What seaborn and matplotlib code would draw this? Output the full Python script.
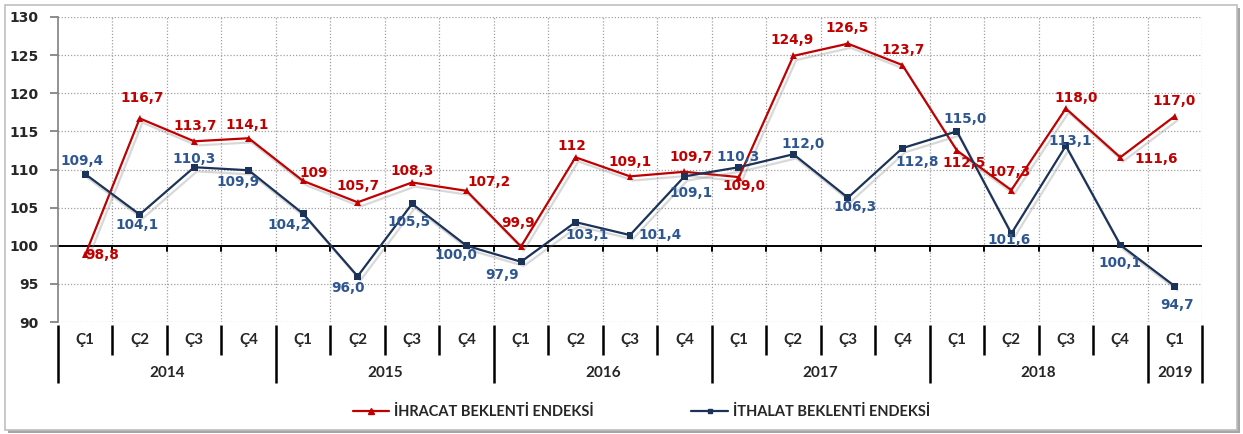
#!/usr/bin/env python3
"""
Export / import expectation indices (2014 Q1 - 2019 Q1), quarterly line chart.
"""

import numpy as np
import pandas as pd

import matplotlib
matplotlib.use('Agg')
import matplotlib.pyplot as plt
import matplotlib.patheffects as pe
from matplotlib.patches import Rectangle
import seaborn as sns

# --- data -----------------------------------------------------------------
quarters = ["Ç1", "Ç2", "Ç3", "Ç4"] * 5 + ["Ç1"]
years = ["2014", "2015", "2016", "2017", "2018", "2019"]
year_sizes = [4, 4, 4, 4, 4, 1]

export_index = [98.8, 116.7, 113.7, 114.1, 108.5, 105.7, 108.3, 107.2, 99.9, 111.6, 109.1,
                109.7, 109.0, 124.9, 126.5, 123.7, 112.5, 107.3, 118.0, 111.6, 117.0]
export_labels = ["98,8", "116,7", "113,7", "114,1", "109", "105,7", "108,3", "107,2", "99,9",
                 "112", "109,1", "109,7", "109,0", "124,9", "126,5", "123,7", "112,5", "107,3",
                 "118,0", "111,6", "117,0"]

import_index = [109.4, 104.1, 110.3, 109.9, 104.2, 96.0, 105.5, 100.0, 97.9, 103.1, 101.4,
                109.1, 110.3, 112.0, 106.3, 112.8, 115.0, 101.6, 113.1, 100.1, 94.7]
import_labels = ["109,4", "104,1", "110,3", "109,9", "104,2", "96,0", "105,5", "100,0", "97,9",
                 "103,1", "101,4", "109,1", "110,3", "112,0", "106,3", "112,8", "115,0", "101,6",
                 "113,1", "100,1", "94,7"]

series_names = ["İHRACAT BEKLENTİ ENDEKSİ", "İTHALAT BEKLENTİ ENDEKSİ"]

# label placement (offset in pixels from the point)
export_offsets = [(17, 0), (2, 20), (1, 15), (-1, 13), (11, 8), (0, 16), (0, 11), (22, 9),
                  (-3, 24), (-4, 11), (0, 14), (7, 15), (5, -9), (-1, 16), (-1, 16), (1, 15),
                  (7, -13), (-2, 18), (10, 11), (36, -2), (-1, 15)]
import_offsets = [(-3, 13), (-3, -11), (0, 8), (-11, -12), (-14, -11), (-10, -12), (-3, -18),
                  (-11, -9), (-19, -13), (12, -13), (30, 0), (7, -17), (-1, 10), (10, 10),
                  (7, -9), (15, -14), (8, 12), (-2, -6), (4, 5), (0, -18), (2, -19)]

RED = "#C00000"
NAVY = "#1B3358"
BLUE_TXT = "#2E5690"


def main():
    sns.set_theme(style="white")
    plt.rcParams['font.family'] = ['DejaVu Sans']

    n = len(quarters)
    df = pd.DataFrame({
        "idx": list(range(n)) * 2,
        "value": export_index + import_index,
        "series": [series_names[0]] * n + [series_names[1]] * n,
    })

    fig = plt.figure(figsize=(12.43, 4.34), dpi=100)
    W, H = 1243, 434
    ax = fig.add_axes([58 / W, 1 - 322 / H, (1202 - 58) / W, (322 - 17) / H])

    # outer frame with shadow
    fig.patches.append(Rectangle((8 / W, 1 / H), 1232 / W, 425 / H, transform=fig.transFigure,
                                 facecolor="#A6A6A6", edgecolor="none", zorder=-3))
    fig.patches.append(Rectangle((5 / W, 4 / H), 1232 / W, 425 / H, transform=fig.transFigure,
                                 facecolor="white", edgecolor="#BFBFBF", linewidth=1.2, zorder=-2))

    shadow = [pe.SimpleLineShadow(offset=(2, -3), shadow_color="gray", alpha=0.3), pe.Normal()]
    sns.lineplot(data=df, x="idx", y="value", hue="series", style="series",
                 palette=[RED, NAVY], markers=["^", "s"], dashes=False,
                 linewidth=1.6, markersize=5, markeredgewidth=0, ax=ax,
                 path_effects=shadow, legend=False)

    ax.set_xlim(-0.5, n - 0.5)
    ax.set_ylim(90, 130)
    ax.set_yticks(np.arange(90, 131, 5))
    ax.set_yticklabels([str(v) for v in range(90, 131, 5)], fontsize=10, fontweight="bold")
    ax.set_xticks([])
    ax.set_xlabel("")
    ax.set_ylabel("")
    ax.tick_params(axis="y", length=6, color="#7F7F7F", direction="out", pad=8, left=True)

    for s in ["top", "right", "bottom"]:
        ax.spines[s].set_visible(False)
    ax.spines["left"].set_color("#808080")
    ax.spines["left"].set_linewidth(1.2)

    # dotted grid
    for v in range(90, 131, 5):
        if v != 100:
            ax.axhline(v, color="#A0A0A0", linestyle=(0, (1, 1.5)), linewidth=0.9, zorder=0)
    for b in np.arange(0.5, n, 1.0):
        ax.axvline(b, color="#A0A0A0", linestyle=(0, (1, 1.5)), linewidth=0.9, zorder=0)

    # base line at 100 with ticks
    ax.axhline(100, color="black", linewidth=1.4, zorder=1)
    for b in np.arange(0.5, n - 1, 1.0):
        ax.plot([b, b], [100, 99.35], color="black", linewidth=1.4, zorder=1)

    # data labels
    for i in range(n):
        ax.annotate(export_labels[i], (i, export_index[i]), xytext=export_offsets[i],
                    textcoords="offset pixels", ha="center", va="center",
                    fontsize=9.8, fontweight="bold", color=RED, zorder=5)
        ax.annotate(import_labels[i], (i, import_index[i]), xytext=import_offsets[i],
                    textcoords="offset pixels", ha="center", va="center",
                    fontsize=9.8, fontweight="bold", color=BLUE_TXT, zorder=5)

    # two-level category axis
    trans = ax.get_xaxis_transform()
    ah = 322 - 17
    cat_font = ['Lato', 'DejaVu Sans']
    for i, q in enumerate(quarters):
        ax.text(i, -18 / ah, q, transform=trans, ha="center", va="center",
                fontsize=11, fontweight="bold", family=cat_font)
    start = 0
    for y, size in zip(years, year_sizes):
        ax.text(start + (size - 1) / 2, -51 / ah, y, transform=trans, ha="center", va="center",
                fontsize=11, fontweight="bold", family=cat_font)
        start += size
    year_edges = np.cumsum([0] + year_sizes) - 0.5
    for b in np.arange(-0.5, n, 1.0):
        low = -61 / ah if np.any(np.isclose(year_edges, b)) else -33 / ah
        ax.plot([b, b], [-3 / ah, low], transform=trans, color="black", linewidth=1.8,
                clip_on=False, solid_capstyle="butt")

    # legend
    handles = [plt.Line2D([], [], color=RED, marker="^", markersize=4, linewidth=1.6),
               plt.Line2D([], [], color=NAVY, marker="s", markersize=3.5, linewidth=1.6)]
    fig.legend(handles, series_names, loc="center", bbox_to_anchor=(0.516, 1 - 412 / H),
               ncol=2, frameon=False, handlelength=2.5, handletextpad=0.35, columnspacing=6.7,
               prop={"family": cat_font, "weight": "bold", "size": 10.5})

    fig.savefig("out.png", dpi=100)
    plt.close(fig)


if __name__ == "__main__":
    main()
